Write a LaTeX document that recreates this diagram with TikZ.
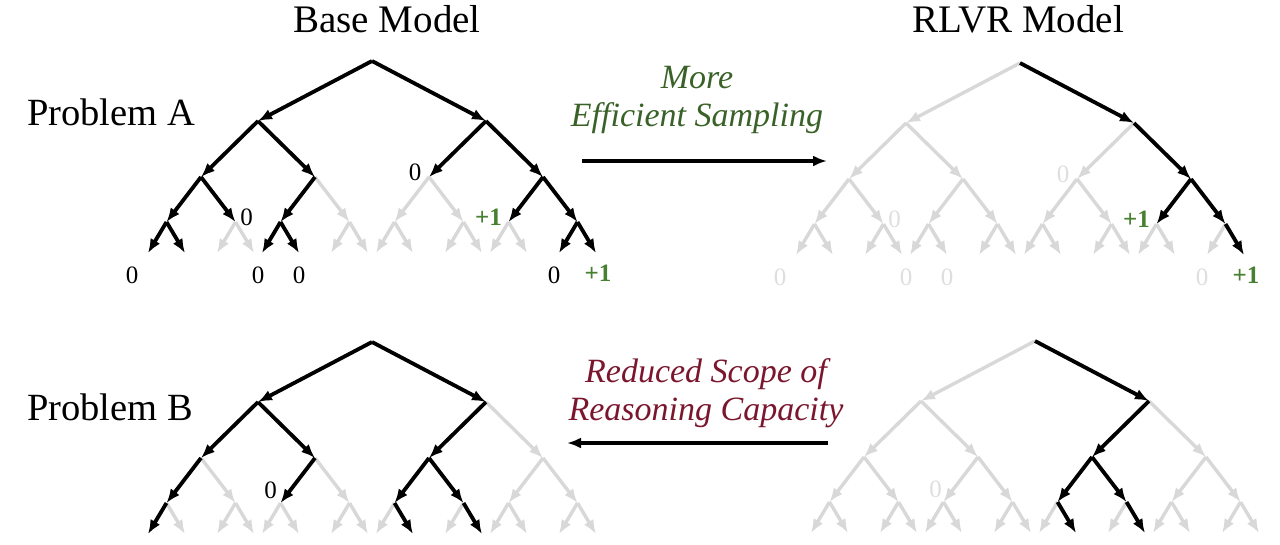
\documentclass[tikz,border=0pt]{standalone}
\usepackage{fontspec}
\setmainfont{Liberation Serif}
\usepackage{xcolor}
\usetikzlibrary{arrows.meta, positioning, calc}

\definecolor{gainGreen}{RGB}{72,128,50}
\definecolor{noteGreen}{RGB}{58,98,40}
\definecolor{noteRed}{RGB}{122,22,45}
\definecolor{faded}{RGB}{216,216,216}
\definecolor{fadedText}{RGB}{222,222,222}

% full binary tree of depth 4: #1 name, #2 root
\newcommand{\drawtree}[2]{%
  \coordinate (#1-0-0) at (#2);
  \foreach \l/\dx/\dy in {1/114/60, 2/57/56, 3/34.5/45, 4/18.5/31} {
    \pgfmathtruncatemacro{\n}{2^\l-1}
    \pgfmathtruncatemacro{\pl}{\l-1}
    \foreach \i in {0,...,\n} {
      \pgfmathtruncatemacro{\p}{div(\i,2)}
      \pgfmathtruncatemacro{\s}{2*mod(\i,2)-1}
      \coordinate (#1-\l-\i) at ($(#1-\pl-\p) + (\s*\dx, \dy)$);
      \draw[edge] (#1-\pl-\p) -- (#1-\l-\i);
    }
  }
}
% sampled branches: #1 tree, #2 list of level/index
\newcommand{\hotpath}[2]{%
  \foreach \l/\i in {#2} {
    \pgfmathtruncatemacro{\pl}{\l-1}
    \pgfmathtruncatemacro{\p}{div(\i,2)}
    \draw[hot] (#1-\pl-\p) -- (#1-\l-\i);
  }
}
% rewards of problem A: #1 tree, #2 colour of the zeros
\newcommand{\rewardsA}[2]{%
  \node[zero, text=#2] (#1-z1) at ($(#1-2-2)+(-14,-5)$) {0};
  \node[zero, text=#2] (#1-z2) at ($(#1-3-1)+(11,-5)$) {0};
  \node[plus] (#1-p1) at ($(#1-3-6)+(-20,-5)$) {+1};
  \node[zero, text=#2] (#1-z3) at ($(#1-4-0)+(-16,22)$) {0};
  \node[zero, text=#2] (#1-z4) at ($(#1-4-4)+(-4,22)$) {0};
  \node[zero, text=#2] (#1-z5) at ($(#1-4-5)+(0,22)$) {0};
  \node[zero, text=#2] (#1-z6) at ($(#1-4-14)+(-5,22)$) {0};
  \node[plus] (#1-p2) at ($(#1-4-15)+(2,20)$) {+1};
}

\begin{document}
\begin{tikzpicture}[
  x=1pt, y=-1pt,
  edge/.style={->, line width=3.4pt, draw=faded},
  hot/.style={->, line width=3.8pt, draw=black},
  title/.style={font=\fontsize{39}{44}\selectfont, anchor=base},
  problem/.style={font=\fontsize{38.5}{44}\selectfont, anchor=base west, inner sep=0pt},
  note/.style={font=\fontsize{34}{38}\selectfont\itshape, align=center, inner sep=0pt},
  zero/.style={font=\fontsize{25}{28}\selectfont, inner sep=0pt},
  plus/.style={font=\fontsize{25}{28}\selectfont\bfseries, text=gainGreen, inner sep=0pt},
  >={Latex[length=14pt, width=11pt]}
]
  \useasboundingbox (0,0) rectangle (1280,544);

  % Titles
  \node[title] (baseTitle) at (387,32) {Base Model};
  \node[title] (rlvrTitle) at (1018,32) {RLVR Model};
  \node[problem] (probA) at (27,125) {Problem A};
  \node[problem] (probB) at (27,420) {Problem B};

  % Trees
  \drawtree{baseA}{372,61}
  \drawtree{rlvrA}{1020,63}
  \drawtree{baseB}{372,342}
  \drawtree{rlvrB}{1035,341}

  % Sampled paths
  \hotpath{baseA}{1/0, 1/1, 2/0, 2/1, 2/2, 2/3, 3/0, 3/1, 3/2, 3/6, 3/7, 4/0, 4/1, 4/4, 4/5, 4/14, 4/15}
  \hotpath{rlvrA}{1/1, 2/3, 3/6, 3/7, 4/15}
  \hotpath{baseB}{1/0, 1/1, 2/0, 2/1, 2/2, 3/0, 3/2, 3/4, 3/5, 4/0, 4/9, 4/11}
  \hotpath{rlvrB}{1/1, 2/2, 3/4, 3/5, 4/9, 4/11}

  % Rewards
  \rewardsA{baseA}{black}
  \rewardsA{rlvrA}{fadedText}
  \node[zero] (baseB-z1) at ($(baseB-3-2)+(-10,-13)$) {0};
  \node[zero, text=fadedText] (rlvrB-z1) at ($(rlvrB-3-2)+(-8,-13)$) {0};

  % Middle notes
  \node[note, text=noteGreen] (gainNote) at (697,100) {More\\Efficient Sampling};
  \coordinate (gainL) at (582,161);
  \coordinate (gainR) at (827,161);
  \draw[->, line width=3.2pt] (gainL) -- (gainR);

  \node[note, text=noteRed] (lossNote) at (706,393) {Reduced Scope of\\Reasoning Capacity};
  \coordinate (lossR) at (828,443);
  \coordinate (lossL) at (567,443);
  \draw[->, line width=3.2pt] (lossR) -- (lossL);
\end{tikzpicture}
\end{document}
